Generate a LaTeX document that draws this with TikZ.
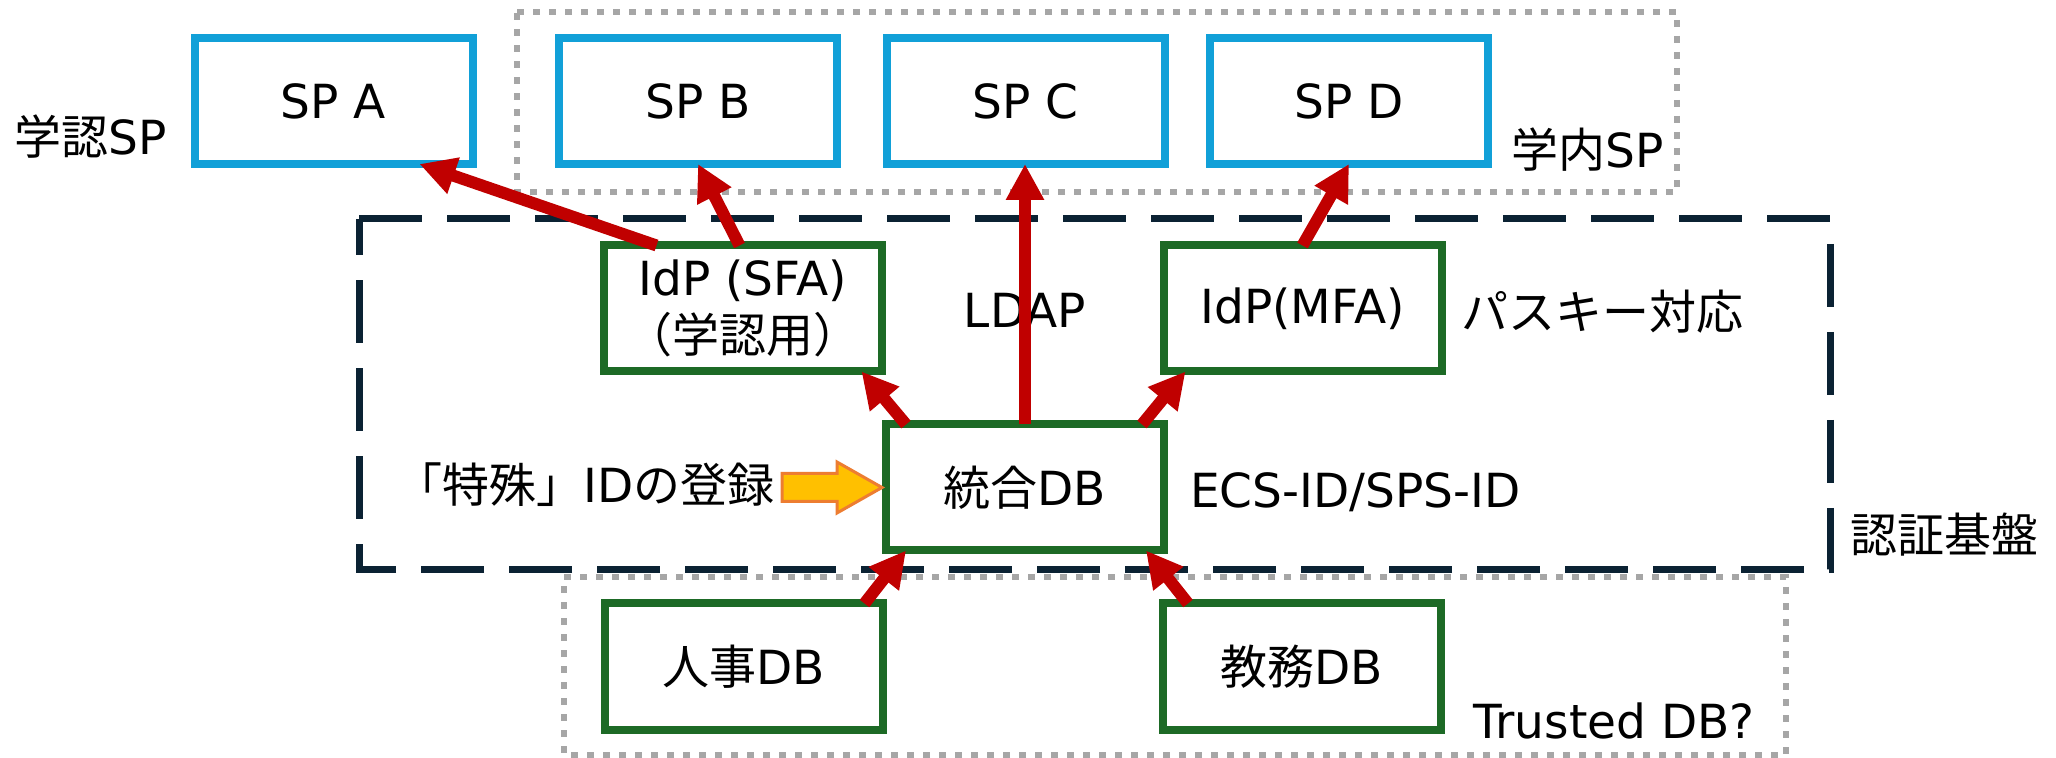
\documentclass[tikz,border=0pt]{standalone}
\usepackage{fontspec}
\setmainfont{DejaVu Sans}
\newfontfamily\jp{Noto Sans CJK JP}
\usetikzlibrary{arrows.meta,calc}
\definecolor{spblue}{HTML}{11A0D8}
\definecolor{dbgreen}{HTML}{1D6A26}
\definecolor{arrred}{HTML}{C00000}
\definecolor{navyline}{HTML}{0B2233}
\definecolor{dotgray}{HTML}{A6A6A6}
\definecolor{ayellow}{HTML}{FFC000}
\definecolor{aorange}{HTML}{ED7D31}
\begin{document}
\begin{tikzpicture}[x=0.5pt,y=-0.5pt,
 every node/.style={font=\fontsize{23.5}{28.5}\selectfont, inner sep=0pt, outer sep=0pt},
 spbox/.style={draw=spblue, line width=4pt, fill=white, minimum width=139pt, minimum height=63pt},
 dbbox/.style={draw=dbgreen, line width=4pt, fill=white, minimum width=139pt, minimum height=63pt, align=center},
 conn/.style={draw=arrred, line width=6pt, -{Triangle[length=18pt,width=18pt]}},
 grayframe/.style={draw=dotgray, line width=3pt, dash pattern=on 3.5pt off 4.5pt},
 navyframe/.style={draw=navyline, line width=3.5pt, dash pattern=on 31.5pt off 12.5pt},
 regarrow/.style={fill=ayellow, draw=aorange, line width=1.5pt, line join=miter},
]
\fill[white] (0,0) rectangle (2056,758);
\useasboundingbox (0,0) rectangle (2056,758);

% frames
\draw[grayframe] (517,12) -- (1677,12) -- (1677,192) -- (517,192) -- cycle;
\draw[grayframe] (564,577) -- (1786,577) -- (1786,755) -- (564,755) -- cycle;
\draw[navyframe] (359,219) -- (1830,219) -- (1830,570) -- (359,570) -- cycle;

% SP boxes
\node[spbox] (spa) at (333.5,101) {SP A};
\node[spbox] (spb) at (698,101) {SP B};
\node[spbox] (spc) at (1025.5,101) {SP C};
\node[spbox] (spd) at (1349,101) {SP D};

% green boxes
\node[dbbox] (sfa) at (742.5,308.5) {IdP (SFA)\\{\jp （学認用）}};
\node[dbbox] (mfa) at (1302.5,308.5) {IdP(MFA)};
\node[dbbox] (int) at (1025,487.5) {{\jp 統合}DB};
\node[dbbox] (hr) at (743.5,666.5) {{\jp 人事}DB};
\node[dbbox] (edu) at (1302,666.5) {{\jp 教務}DB};

% labels
\node (lgakunin) at (91,137) {{\jp 学認}SP};
\node (lgakunai) at (1588,150) {{\jp 学内}SP};
\node (lldap) at (1025,310) {LDAP};
\node (lpasskey) at (1602,312) {\jp パスキー対応};
\node (ltokushu) at (585,485) {{\jp 「特殊」}ID{\jp の登録}};
\node[anchor=west] (lecs) at (1190,492) {ECS-ID/SPS-ID};
\node (lkiban) at (1944,535) {\jp 認証基盤};
\node (ltrusted) at (1614,721) {Trusted DB?};

% yellow registration arrow
\coordinate (ytip) at ($(int.west)+(-4,0)$);
\draw[regarrow] ($(ytip)+(-100,-14)$) -- ($(ytip)+(-45,-14)$) -- ($(ytip)+(-45,-25.5)$) -- (ytip)
  -- ($(ytip)+(-45,25.5)$) -- ($(ytip)+(-45,14)$) -- ($(ytip)+(-100,14)$) -- cycle;

% connectors
\draw[conn] ($(sfa.north west)+(53,0)$) -- ($(spa.south east)+(-53,0)$);
\draw[conn] ($(sfa.north)+(-3,0)$) -- (spb.south);
\draw[conn] (int.north) -- (int.north |- spc.south);
\draw[conn] (mfa.north) -- (spd.south);
\draw[conn] ($(int.north west)+(20,0)$) -- ($(sfa.south east)+(-20,0)$);
\draw[conn] ($(int.north east)+(-22,0)$) -- ($(mfa.south west)+(22,0)$);
\draw[conn] ($(hr.north east)+(-18,0)$) -- ($(int.south west)+(20,0)$);
\draw[conn] ($(edu.north west)+(25,0)$) -- ($(int.south east)+(-18,0)$);
\end{tikzpicture}
\end{document}
